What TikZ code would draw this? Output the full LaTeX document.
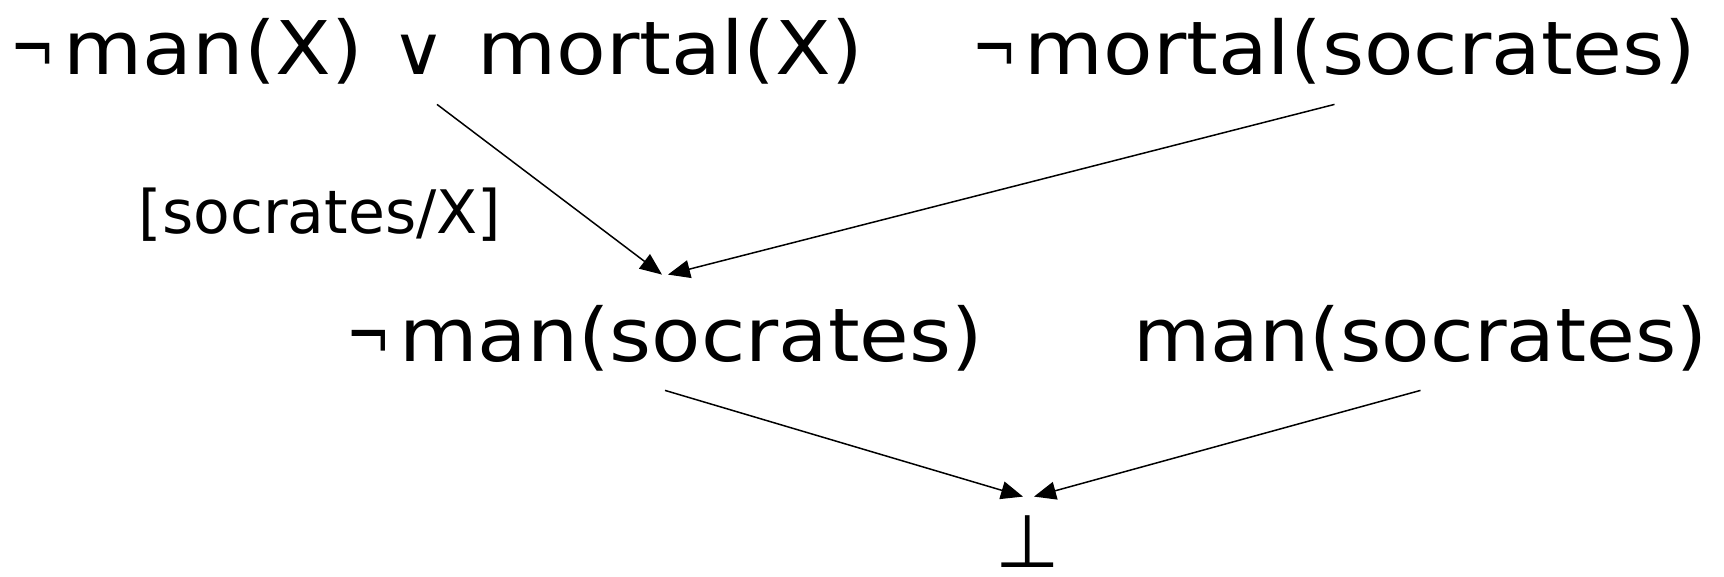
\documentclass[tikz,border=0pt]{standalone}
\usepackage{fontspec}
\setmainfont{DejaVu Sans}
\usetikzlibrary{arrows.meta}
% narrow negation sign
\newcommand\negsign{\scalebox{0.66}[1]{¬}\hspace{3.5pt}}
% clause text widened to a given width, height kept
\newcommand\widetext[2]{\resizebox{#1}{\height}{#2}}
\tikzset{
  clause/.style={font=\fontsize{37}{40}\selectfont, inner sep=0pt,
                 text height=43pt, text depth=14.5pt, anchor=base},
  subst/.style={font=\fontsize{30}{34}\selectfont, inner sep=0pt, anchor=base},
  falsum/.style={font=\fontsize{37}{40}\selectfont, inner sep=0pt,
                 text height=35pt, text depth=0pt, anchor=base},
  resolve/.style={line width=0.75pt, -{Triangle[length=11pt,width=9pt]}}
}
\begin{document}
\begin{tikzpicture}[x=0.5pt,y=-0.5pt]
  \useasboundingbox (0,0) rectangle (1724,577);
  % premises
  \node[clause] (c1) at (437,75)
    {\widetext{426pt}{\negsign man(X)\hspace{13pt}{\fontsize{34}{40}\selectfont∨}\hspace{14pt}mortal(X)}};
  \node[clause] (c2) at (1334.5,75) {\widetext{362pt}{\negsign mortal(socrates)}};
  % substitution used in the first step
  \node[subst] (s1) at (320,234) {[socrates/X]};
  % resolvents
  \node[clause] (c3) at (665,361) {\widetext{318pt}{\negsign man(socrates)}};
  \node[clause] (c4) at (1420.5,361) {\widetext{287pt}{man(socrates)}};
  \node[falsum] (bot) at (1028,567) {⊥};
  % resolution steps
  \draw[resolve] (c1.south) -- ([xshift=-1.5pt]c3.north);
  \draw[resolve] (c2.south) -- ([xshift=1.5pt]c3.north);
  \draw[resolve] (c3.south) -- ([xshift=-2.5pt]bot.north);
  \draw[resolve] (c4.south) -- ([xshift=3pt]bot.north);
\end{tikzpicture}
\end{document}
